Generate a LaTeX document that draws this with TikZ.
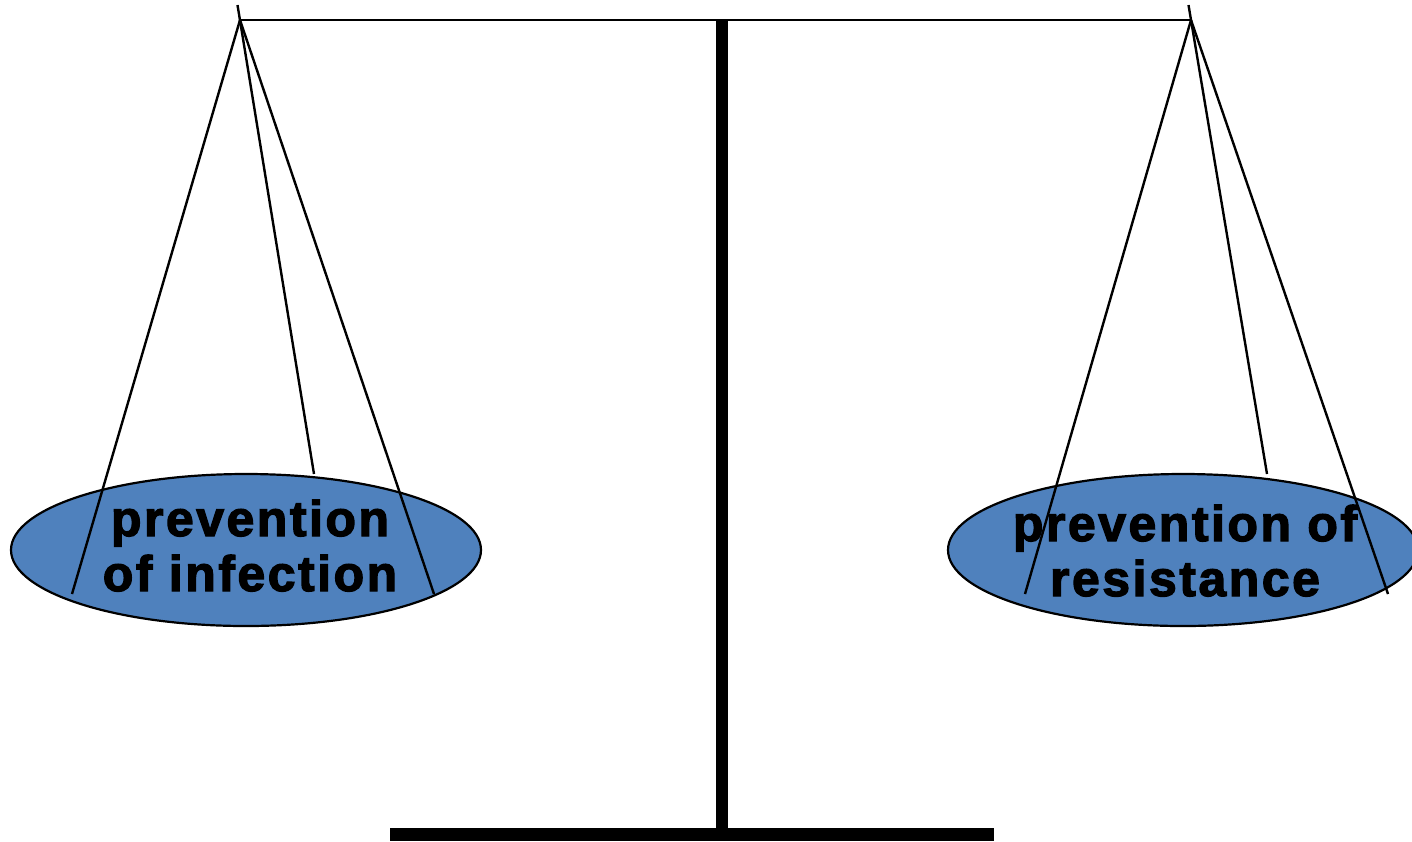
\documentclass[tikz,border=0pt]{standalone}
\usepackage{fontspec}
\setmainfont{Liberation Sans}
\usetikzlibrary{shapes.geometric}
\definecolor{panblue}{HTML}{4F81BD}
\tikzset{
  pan/.style={ellipse, draw=black, line width=2.2pt, fill=panblue, minimum width=470pt, minimum height=152pt, inner sep=0pt},
  rope/.style={draw=black, line width=2.4pt},
  label/.style={font=\fontsize{50}{58}\selectfont\bfseries\addfontfeature{LetterSpace=5,FakeBold=2.5}, text=black, inner sep=0pt, anchor=base},
  heavy/.style={draw=black, line width=12pt}
}
\begin{document}
\begin{tikzpicture}[x=1pt,y=-1pt]
\useasboundingbox (0,0) rectangle (1412,841);
\clip (0,0) rectangle (1412,841);
% stand
\coordinate (coltop) at (722,20);
\coordinate (colbot) at (722,830);
\draw[heavy] (coltop) -- (colbot);
\fill[black] (390,828) rectangle (994,841);
% beam
\coordinate (pl) at (240,20);
\coordinate (pr) at (1191,20);
\draw[rope] (pl) -- (pr);
% pans
\node[pan] (panl) at (246,550) {};
\node[pan] (panr) at (1183,550) {};
% labels
\node[label] (l1) at (250,536) {prevention};
\node[label] (l2) at (250,591) {of infection};
\node[label] (r1) at (1185,541) {prevention of};
\node[label] (r2) at (1185,596) {resistance};
% ropes left
\coordinate (tl) at (237.5,5);
\coordinate (la) at (72,594);
\coordinate (lb) at (314,474);
\coordinate (lc) at (434,594);
\draw[rope] (pl) -- (la);
\draw[rope] (tl) -- (lb);
\draw[rope] (pl) -- (lc);
% ropes right
\coordinate (tr) at (1188.5,5);
\coordinate (ra) at (1025,594);
\coordinate (rb) at (1267,474);
\coordinate (rc) at (1388,594);
\draw[rope] (pr) -- (ra);
\draw[rope] (tr) -- (rb);
\draw[rope] (pr) -- (rc);
\end{tikzpicture}
\end{document}
